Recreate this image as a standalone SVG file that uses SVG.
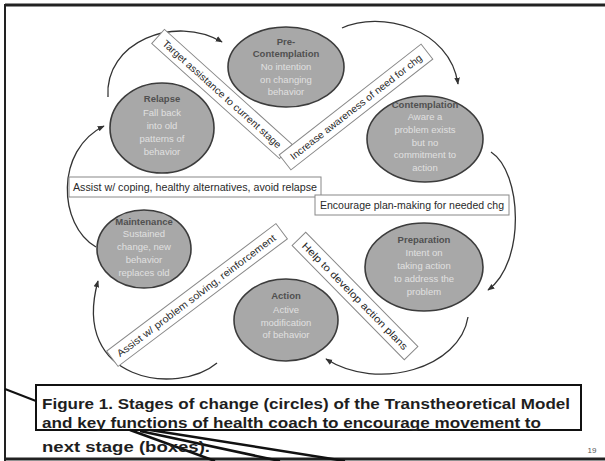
<svg xmlns="http://www.w3.org/2000/svg" width="605" height="461" viewBox="0 0 605 461">
<defs>
<marker id="ah" viewBox="0 0 10 10" refX="9" refY="5" markerWidth="7" markerHeight="7" markerUnits="userSpaceOnUse" orient="auto">
<path d="M0,1 L10,5 L0,9 z" fill="#333"/>
</marker>
<style>
.st{fill:#a8a8a8;stroke:#3c3c3c;stroke-width:1.6}
.tt{font-family:"Liberation Sans",Arial,sans-serif;font-size:9.5px;font-weight:bold;fill:#505050;text-anchor:middle}
.bd{font-family:"Liberation Sans",Arial,sans-serif;font-size:9.5px;fill:#e0e0e0;text-anchor:middle}
.bx{fill:#fff;stroke:#888;stroke-width:1}
.bl{font-family:"Liberation Sans",Arial,sans-serif;font-size:10px;fill:#2a2a2a}
.cn{fill:none;stroke:#333;stroke-width:1.3}
.cap{font-family:"Liberation Sans",Arial,sans-serif;font-size:15px;font-weight:bold;fill:#1e1e1e}
</style>
</defs>
<rect width="605" height="461" fill="#fff"/>
<!-- frame -->
<line x1="5" y1="5" x2="605" y2="5" stroke="#222" stroke-width="3"/>
<line x1="5" y1="4" x2="5" y2="461" stroke="#222" stroke-width="2"/>
<line x1="5" y1="459" x2="605" y2="459" stroke="#222" stroke-width="3"/>

<g id="connectors">
<path class="cn" d="M108,97 C104,42 175,14 222,42" marker-end="url(#ah)"/>
<path class="cn" d="M342,28 C380,10 450,28 458,84" marker-end="url(#ah)"/>
<path class="cn" d="M491,152 C522,172 526,262 488,290" marker-end="url(#ah)"/>
<path class="cn" d="M468,317 C460,368 378,392 326,359" marker-end="url(#ah)"/>
<path class="cn" d="M217,363 C178,396 70,382 98,281" marker-end="url(#ah)"/>
<path class="cn" d="M96,247 C58,225 55,150 104,126" marker-end="url(#ah)"/>
</g>

<g id="precontemplation">
<ellipse class="st" cx="286" cy="67" rx="58" ry="40"/>
<text class="tt" x="286" y="45">Pre-</text>
<text class="tt" x="286" y="57">Contemplation</text>
<text class="bd" x="286" y="70">No intention</text>
<text class="bd" x="286" y="83">on changing</text>
<text class="bd" x="286" y="95">behavior</text>
</g>
<g id="contemplation">
<ellipse class="st" cx="425" cy="139" rx="58" ry="43"/>
<text class="tt" x="425" y="108">Contemplation</text>
<text class="bd" x="425" y="120">Aware a</text>
<text class="bd" x="425" y="133">problem exists</text>
<text class="bd" x="425" y="146">but no</text>
<text class="bd" x="425" y="158">commitment to</text>
<text class="bd" x="425" y="171">action</text>
</g>
<g id="preparation">
<ellipse class="st" cx="424" cy="267" rx="59" ry="44"/>
<text class="tt" x="424" y="243">Preparation</text>
<text class="bd" x="424" y="256">Intent on</text>
<text class="bd" x="424" y="269">taking action</text>
<text class="bd" x="424" y="282">to address the</text>
<text class="bd" x="424" y="295">problem</text>
</g>
<g id="action">
<ellipse class="st" cx="286" cy="320" rx="52" ry="41"/>
<text class="tt" x="286" y="299">Action</text>
<text class="bd" x="286" y="313">Active</text>
<text class="bd" x="286" y="326">modification</text>
<text class="bd" x="286" y="338">of behavior</text>
</g>
<g id="maintenance">
<ellipse class="st" cx="144" cy="249" rx="47" ry="39"/>
<text class="tt" x="144" y="225">Maintenance</text>
<text class="bd" x="144" y="237">Sustained</text>
<text class="bd" x="144" y="250">change, new</text>
<text class="bd" x="144" y="263">behavior</text>
<text class="bd" x="144" y="276">replaces old</text>
</g>
<g id="relapse">
<ellipse class="st" cx="162" cy="128" rx="52" ry="45"/>
<text class="tt" x="162" y="102">Relapse</text>
<text class="bd" x="162" y="116">Fall back</text>
<text class="bd" x="162" y="129">into old</text>
<text class="bd" x="162" y="142">patterns of</text>
<text class="bd" x="162" y="155">behavior</text>
</g>

<g id="box-target" transform="translate(222,94) rotate(42)">
<rect class="bx" x="-86" y="-9.5" width="172" height="19"/>
<text class="bl" x="-78" y="3.5" textLength="156" lengthAdjust="spacingAndGlyphs">Target assistance to current stage</text>
</g>
<g id="box-increase" transform="translate(356,107) rotate(-38)">
<rect class="bx" x="-90" y="-9.5" width="180" height="19"/>
<text class="bl" x="-82" y="3.5" textLength="164" lengthAdjust="spacingAndGlyphs">Increase awareness of need for chg</text>
</g>
<g id="box-coping">
<rect class="bx" x="69" y="177" width="252" height="20"/>
<text class="bl" x="73" y="191" textLength="244" lengthAdjust="spacingAndGlyphs">Assist w/ coping, healthy alternatives, avoid relapse</text>
</g>
<g id="box-encourage">
<rect class="bx" x="315" y="195" width="194" height="20"/>
<text class="bl" x="320" y="209" textLength="184" lengthAdjust="spacingAndGlyphs">Encourage plan-making for needed chg</text>
</g>
<g id="box-problem" transform="translate(197,295) rotate(-37)">
<rect class="bx" x="-106" y="-9.5" width="212" height="19"/>
<text class="bl" x="-99" y="3.5" textLength="196" lengthAdjust="spacingAndGlyphs">Assist w/ problem solving, reinforcement</text>
</g>
<g id="box-help" transform="translate(355,296) rotate(45.5)">
<rect class="bx" x="-80" y="-9.5" width="160" height="19"/>
<text class="bl" x="-73" y="3.5" textLength="146" lengthAdjust="spacingAndGlyphs">Help to develop action plans</text>
</g>

<g id="caption">
<line x1="5" y1="389" x2="36" y2="401" stroke="#111" stroke-width="2"/>
<line x1="130" y1="430" x2="215" y2="461" stroke="#111" stroke-width="2.5"/>
<line x1="140" y1="431" x2="280" y2="461" stroke="#111" stroke-width="2.5"/>
<line x1="150" y1="430" x2="345" y2="461" stroke="#111" stroke-width="2.5"/>
<rect x="36" y="385" width="545" height="45" fill="none" stroke="#111" stroke-width="2"/>
<text class="cap" x="42" y="409" textLength="528" lengthAdjust="spacingAndGlyphs">Figure 1. Stages  of change (circles)  of the Transtheoretical  Model</text>
<text class="cap" x="42" y="428" textLength="499" lengthAdjust="spacingAndGlyphs">and key  functions of health coach  to encourage  movement  to</text>
<text class="cap" x="42" y="452" textLength="168" lengthAdjust="spacingAndGlyphs">next  stage  (boxes).</text>
<text x="592" y="453" font-family="Liberation Sans, Arial, sans-serif" font-size="8" fill="#555" text-anchor="middle">19</text>
</g>
</svg>
